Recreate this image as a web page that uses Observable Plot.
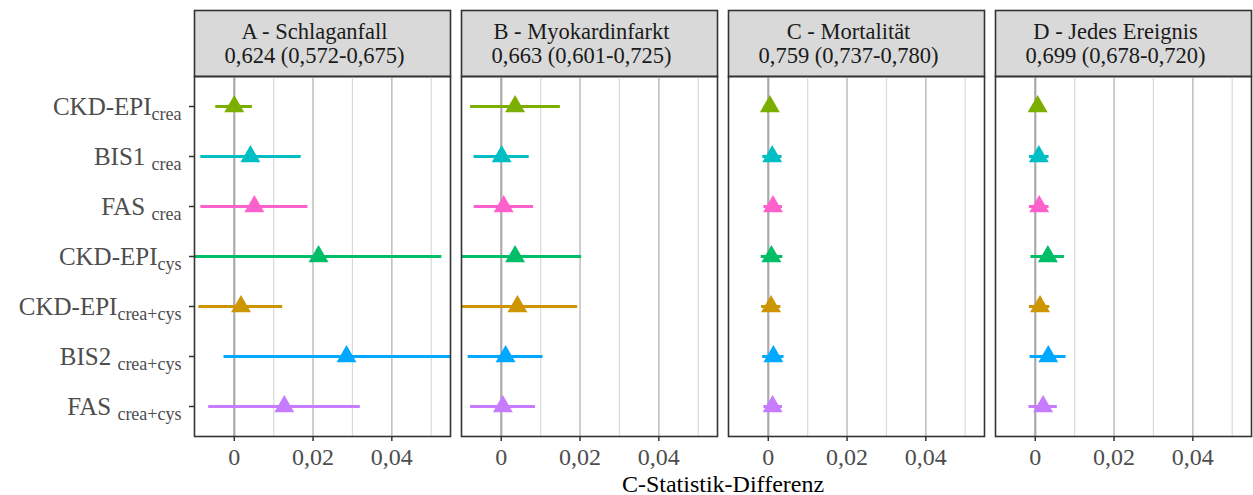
<!DOCTYPE html>
<html><head><meta charset="utf-8">
<script src="https://cdn.jsdelivr.net/npm/d3@7"></script>
<script src="https://cdn.jsdelivr.net/npm/@observablehq/plot@0.6"></script>
<style>
body{margin:0;background:#fff;}
#chart{width:1253px;}
#chart svg{display:block;}
.caption{font-family:"Liberation Serif",serif;font-size:24px;color:#000;text-align:center;margin-left:193px;width:1060px;line-height:18px;}
</style></head><body><div id="chart"></div><div class="caption">C-Statistik-Differenz</div>
<script>
const panels = ["A", "B", "C", "D"];
const panelTitles = ["A - Schlaganfall", "B - Myokardinfarkt", "C - Mortalität", "D - Jedes Ereignis"];
const panelCstats = ["0,624 (0,572-0,675)", "0,663 (0,601-0,725)", "0,759 (0,737-0,780)", "0,699 (0,678-0,720)"];

const models = ["ckdCrea", "bis1", "fasCrea", "ckdCys", "ckdCreaCys", "bis2", "fasCreaCys"];
const labelMain = ["CKD-EPI", "BIS1 ", "FAS ", "CKD-EPI", "CKD-EPI", "BIS2 ", "FAS "];
const labelSub = ["crea", "crea", "crea", "cys", "crea+cys", "crea+cys", "crea+cys"];
const modelColors = ["#7CAE00", "#00BFC4", "#FF61CC", "#00BE67", "#CD9600", "#00A9FF", "#C77CFF"];

// C-statistic differences (estimate, lower, upper) per panel, in model order
const estA = [0.0000, 0.0041, 0.0051, 0.0214, 0.0017, 0.0285, 0.0127];
const loA  = [-0.0047, -0.0085, -0.0085, -0.0125, -0.0090, -0.0026, -0.0065];
const hiA  = [0.0046, 0.0170, 0.0187, 0.0527, 0.0123, 0.0620, 0.0320];
const estB = [0.0035, 0.0001, 0.0006, 0.0035, 0.0041, 0.0011, 0.0004];
const loB  = [-0.0078, -0.0069, -0.0069, -0.0130, -0.0125, -0.0084, -0.0078];
const hiB  = [0.0150, 0.0071, 0.0082, 0.0204, 0.0194, 0.0106, 0.0087];
const estC = [0.0004, 0.0010, 0.0012, 0.0008, 0.0007, 0.0013, 0.0011];
const loC  = [-0.0003, -0.0014, -0.0011, -0.0018, -0.0017, -0.0014, -0.0011];
const hiC  = [0.0012, 0.0035, 0.0036, 0.0037, 0.0032, 0.0040, 0.0036];
const estD = [0.0006, 0.0009, 0.0010, 0.0032, 0.0012, 0.0033, 0.0020];
const loD  = [-0.0002, -0.0015, -0.0015, -0.0011, -0.0015, -0.0013, -0.0016];
const hiD  = [0.0013, 0.0035, 0.0035, 0.0074, 0.0037, 0.0078, 0.0056];

const xDomain = [-0.0101, 0.0549];
const xMajor = [0, 0.02, 0.04];
const xMinor = [0.01, 0.03, 0.05];

const series = {A: [estA, loA, hiA], B: [estB, loB, hiB], C: [estC, loC, hiC], D: [estD, loD, hiD]};
const table = panels.flatMap(p => models.map((m, i) => ({
  panel: p, model: m, est: series[p][0][i], lo: series[p][1][i], hi: series[p][2][i]
})));
const strips = panels.map((p, i) => ({panel: p, label: panelTitles[i] + "\n" + panelCstats[i]}));

const font = '"Liberation Serif", "Times New Roman", serif';
const fmt = d => d === 0 ? "0" : String(d).replace(".", ",");

const plot = Plot.plot({
  width: 1253, height: 475,
  marginLeft: 193, marginRight: 0, marginTop: 76, marginBottom: 39,
  style: {fontFamily: font, background: "#fff"},
  fx: {domain: panels, axis: null, paddingInner: 11 / 268, paddingOuter: 0},
  x: {domain: xDomain},
  y: {type: "point", domain: models, padding: 0.6},
  color: {domain: models, range: modelColors},
  marks: [
    Plot.frame({fill: "#D9D9D9", stroke: "#333", strokeWidth: 1.6, insetTop: -66, insetBottom: 360}),
    Plot.ruleX(xMinor, {stroke: "#DADADA", strokeWidth: 1.2}),
    Plot.ruleX(xMajor.slice(1), {stroke: "#C2C2C2", strokeWidth: 1.6}),
    Plot.ruleX([0], {stroke: "#A9A9A9", strokeWidth: 2.2}),
    Plot.ruleY(table, {fx: "panel", y: "model", x1: "lo", x2: "hi", stroke: "model", strokeWidth: 3, clip: true}),
    Plot.dot(table, {fx: "panel", x: "est", y: "model", symbol: "triangle", r: 7.4, fill: "model", stroke: null}),
    Plot.frame({stroke: "#333", strokeWidth: 1.6}),
    Plot.text(strips, {fx: "panel", text: "label", frameAnchor: "top", lineAnchor: "middle", dy: -33, dx: -8,
      lineHeight: 1.05, fontSize: 22.5, fontFamily: font, fill: "#1A1A1A"}),
    Plot.axisX({ticks: xMajor, tickFormat: fmt, tickSize: 5, tickPadding: 6, fontSize: 24, fontFamily: font,
      color: "#4D4D4D", stroke: "#333", strokeWidth: 1.5, label: null}),
    Plot.axisY({tickSize: 5, tickPadding: 8, fontSize: 25, fontFamily: font, color: "#4D4D4D", stroke: "#333",
      strokeWidth: 1.5, label: null, tickFormat: d => d})
  ]
});

document.getElementById("chart").appendChild(plot);

// rich y labels with subscripts
d3.select(plot).selectAll("text").each(function () {
  const i = models.indexOf(this.textContent);
  if (i < 0) return;
  const t = d3.select(this);
  t.text(null);
  t.append("tspan").text(labelMain[i]);
  t.append("tspan").attr("font-size", 18).attr("dy", 5).text(labelSub[i]);
});
</script></body></html>
